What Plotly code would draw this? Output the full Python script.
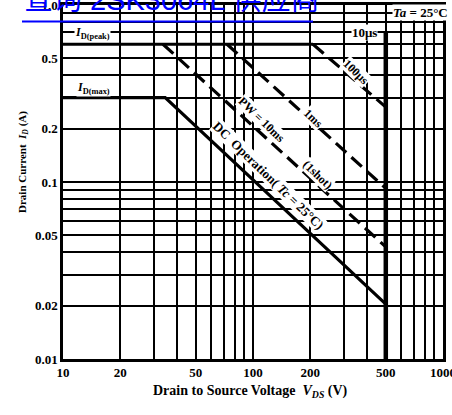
import math
import plotly.graph_objects as go

# ---- data ----
x_grid = [10, 20, 30, 40, 50, 60, 70, 80, 90, 100, 200, 300, 400, 500, 600, 700, 800, 900, 1000]
x_labels = {10: "10", 20: "20", 50: "50", 100: "100", 200: "200", 500: "500", 1000: "1000"}
y_grid = [0.01, 0.02, 0.03, 0.04, 0.05, 0.06, 0.07, 0.08, 0.09, 0.1, 0.2, 0.3, 0.4, 0.5, 0.6, 0.7, 0.8, 0.9, 1.0]
y_labels = {0.01: "0.01", 0.02: "0.02", 0.05: "0.05", 0.1: "0.1", 0.2: "0.2", 0.5: "0.5", 1.0: "1.0"}

peak_v = [10, 207]
peak_i = [0.6, 0.6]
pw100us_v = [207, 500]
pw100us_i = [0.6, 0.265]
pw1ms_v = [73, 500]
pw1ms_i = [0.6, 0.092]
pw10ms_v = [33.6, 500]
pw10ms_i = [0.6, 0.043]
dc_v = [10, 34.5, 500]
dc_i = [0.3, 0.3, 0.0204]
vdss_v = [500, 500]
vdss_i = [0.01, 0.7]

SERIF = "Liberation Serif, Times New Roman, serif"

fig = go.Figure()
fig.add_trace(go.Scatter(x=peak_v, y=peak_i, mode="lines", line=dict(color="black", width=3.2)))
fig.add_trace(go.Scatter(x=dc_v, y=dc_i, mode="lines", line=dict(color="black", width=3.2)))
for vv, ii in [(pw100us_v, pw100us_i), (pw1ms_v, pw1ms_i), (pw10ms_v, pw10ms_i)]:
    fig.add_trace(go.Scatter(x=vv, y=ii, mode="lines",
                             line=dict(color="black", width=3.2, dash="14px,7px")))
fig.add_trace(go.Scatter(x=vdss_v, y=vdss_i, mode="lines", line=dict(color="black", width=4.5)))


def ann(text, lx, ly, size=11, angle=0, bg="white"):
    fig.add_annotation(x=lx, y=ly, xref="x", yref="y", text=text, showarrow=False,
                       textangle=angle, bgcolor=bg, borderpad=0,
                       font=dict(family=SERIF, size=size, color="black", weight="bold"))


ann("<i>Ta</i> = 25°C", 2.884, -0.040, size=13)
ann("10μs", 2.589, -0.158, size=13)
ann("<i>I</i><sub>D(peak)</sub>", 1.153, -0.158, size=12)
ann("<i>I</i><sub>D(max)</sub>", 1.158, -0.469, size=12)
ann("100μs", 2.542, -0.379, size=12, angle=44)
ann("1ms", 2.316, -0.638, size=12, angle=44)
ann("PW = 10ms", 2.047, -0.650, size=12, angle=44)
ann("(1shot)", 2.342, -0.960, size=12, angle=44)
ann("DC  Operation( <i>Tc</i> = 25°C)", 2.080, -0.965, size=13, angle=44)

W_plot = 452 - 63 - 9
H_plot = 415 - 5 - 56


def px(xp, yp):
    return (xp - 63) / W_plot, (359 - yp) / H_plot


# axis titles
tx, ty = px(250, 402)
fig.add_annotation(x=tx, y=ty, xref="paper", yref="paper", showarrow=False,
                   text="Drain to Source Voltage  <i>V</i><sub><i>DS</i></sub> (V)",
                   font=dict(family=SERIF, size=14, color="black", weight="bold"))
tx, ty = px(14, 162)
fig.add_annotation(x=tx, y=ty, xref="paper", yref="paper", showarrow=False, textangle=-90,
                   text="Drain Current  <i>I</i><sub><i>D</i></sub> (A)",
                   font=dict(family=SERIF, size=11, color="black", weight="bold"))

# blue link-like overlay text (partly cut by the top edge)
tx, ty = px(22, 0)
fig.add_annotation(x=tx, y=ty, xref="paper", yref="paper", showarrow=False,
                   text="查询 2SK3064L 供应商", xanchor="left", yanchor="middle",
                   font=dict(family="Liberation Sans, Noto Sans CJK SC", size=29, color="#0000ff"))
x0, y0 = px(22, 21.5)
x1, _ = px(313, 21.5)
fig.add_shape(type="line", xref="paper", yref="paper", x0=x0, x1=x1, y0=y0, y1=y0,
              line=dict(color="#0000ff", width=2.2))

axis_common = dict(showgrid=True, gridcolor="black", gridwidth=2.2, ticks="",
                   showline=True, linecolor="black", linewidth=2.5, mirror=True,
                   tickfont=dict(family=SERIF, size=13, color="black", weight="bold"),
                   zeroline=False, ticklabeloverflow="allow", automargin=False)
fig.update_xaxes(type="log", range=[1, 3], tickmode="array", tickvals=x_grid,
                 ticktext=[x_labels.get(v, "") for v in x_grid], **axis_common)
fig.update_yaxes(type="log", range=[-2, 0], tickmode="array", tickvals=y_grid,
                 ticktext=[y_labels.get(v, "") for v in y_grid], **axis_common)

fig.update_layout(width=452, height=415, margin=dict(l=63, r=9, t=5, b=56),
                  paper_bgcolor="white", plot_bgcolor="white", showlegend=False)

fig.write_html("out.html")
